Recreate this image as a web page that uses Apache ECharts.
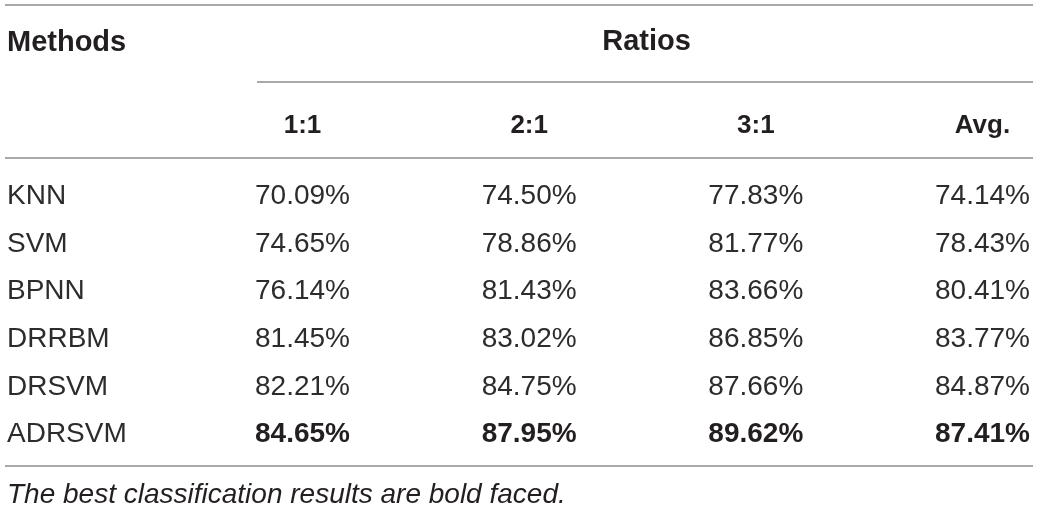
<!DOCTYPE html>
<html>
<head>
<meta charset="utf-8">
<script src="https://cdn.jsdelivr.net/npm/echarts@6/dist/echarts.min.js"></script>
<style>
  html, body { margin: 0; padding: 0; background: #fff; }
  #chart { width: 1040px; height: 510px; }
</style>
</head>
<body>
<div id="chart"></div>
<script>
// 表格数据
const methods = ['KNN', 'SVM', 'BPNN', 'DRRBM', 'DRSVM', 'ADRSVM']
const ratios = ['1:1', '2:1', '3:1', 'Avg.']
const acc11 = [70.09, 74.65, 76.14, 81.45, 82.21, 84.65]
const acc21 = [74.50, 78.86, 81.43, 83.02, 84.75, 87.95]
const acc31 = [77.83, 81.77, 83.66, 86.85, 87.66, 89.62]
const accAvg = [74.14, 78.43, 80.41, 83.77, 84.87, 87.41]
const note = 'The best classification results are bold faced.'

const font = "'Liberation Sans', Arial, Helvetica, sans-serif"
const textColor = '#231f20'
const ruleColor = '#8c8c8c'

const columns = [acc11, acc21, acc31, accAvg]

// 每列最大值加粗
const series = columns.map((col, ci) => {
    const best = Math.max(...col)
    return {
        type: 'scatter',
        symbolSize: 1,
        itemStyle: { color: 'rgba(0,0,0,0)', opacity: 1 },
        silent: true,
        label: {
            show: true,
            position: 'inside',
            color: '#2e2b2c',
            fontFamily: font,
            fontSize: 28,
            formatter: (p) => p.value[2].toFixed(2) + '%'
        },
        data: col.map((v, ri) => ({
            value: [ratios[ci], methods[ri], v],
            label: v === best ? { fontWeight: 'bold', color: textColor } : {}
        }))
    }
})

const rule = (x1, x2, y) => ({
    type: 'line',
    shape: { x1: x1, y1: y, x2: x2, y2: y },
    style: { stroke: ruleColor, lineWidth: 1.5 },
    silent: true
})

const option = {
    animation: false,
    backgroundColor: '#fff',
    grid: { left: 302.5, right: 57.5, top: 172.5, bottom: 51.5 },
    xAxis: {
        type: 'category',
        position: 'top',
        boundaryGap: false,
        data: ratios,
        name: 'Ratios',
        nameLocation: 'middle',
        nameGap: 116,
        nameTextStyle: {
            color: textColor,
            fontFamily: font,
            fontWeight: 'bold',
            fontSize: 29,
            padding: [0, 0, 0, 8]
        },
        axisLine: { show: false },
        axisTick: { show: false },
        splitLine: { show: false },
        axisLabel: {
            margin: 47,
            verticalAlign: 'middle',
            color: textColor,
            fontFamily: font,
            fontWeight: 'bold',
            fontSize: 26
        }
    },
    yAxis: {
        type: 'category',
        inverse: true,
        data: methods,
        axisLine: { show: false },
        axisTick: { show: false },
        splitLine: { show: false },
        axisLabel: {
            align: 'left',
            margin: 295.5,
            color: '#2e2b2c',
            fontFamily: font,
            fontSize: 28
        }
    },
    series: series,
    graphic: [
        rule(5, 1033, 5),
        rule(257, 1033, 82),
        rule(5, 1033, 158),
        rule(5, 1033, 466),
        {
            type: 'text',
            x: 7,
            y: 43,
            silent: true,
            style: {
                text: 'Methods',
                fill: textColor,
                font: 'bold 29px ' + font,
                verticalAlign: 'middle'
            }
        },
        {
            type: 'text',
            x: 7,
            y: 495,
            silent: true,
            style: {
                text: note,
                fill: textColor,
                font: 'italic 28px ' + font,
                verticalAlign: 'middle'
            }
        }
    ]
}

const chart = echarts.init(document.getElementById('chart'))
chart.setOption(option)
</script>
</body>
</html>
